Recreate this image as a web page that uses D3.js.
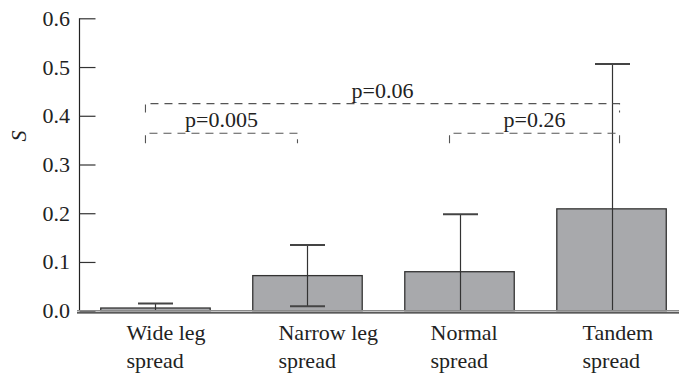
<!DOCTYPE html>
<html>
<head>
<meta charset="utf-8">
<script src="https://cdn.jsdelivr.net/npm/d3@7"></script>
</head>
<body style="margin:0">
<svg id="s" width="679" height="379"></svg>
<script>
// ---- data ----
const categories = ["Wide leg spread", "Narrow leg spread", "Normal spread", "Tandem spread"];
const labelLine1 = ["Wide leg", "Narrow leg", "Normal", "Tandem"];
const labelLine2 = ["spread", "spread", "spread", "spread"];
const means = [0.0055, 0.072, 0.080, 0.209];
const sds = [0.0092, 0.063, 0.118, 0.297];
const yTicks = [0.0, 0.1, 0.2, 0.3, 0.4, 0.5, 0.6];
const yTickLabels = ["0.0", "0.1", "0.2", "0.3", "0.4", "0.5", "0.6"];
const yLabel = "S";
const bracketFrom = [0, 2, 0];
const bracketTo = [1, 3, 3];
const bracketLevel = [0.364, 0.364, 0.425];
const bracketLabels = ["p=0.005", "p=0.26", "p=0.06"];

// ---- drawing ----
const FONT = "Liberation Serif";
const FS = 22;
const TXT = "#222";
const svg = d3.select("#s");
const x = d3.scaleBand().domain(categories).range([79, 688]).paddingInner(0.28).paddingOuter(0.143);
const y = d3.scaleLinear().domain([0, 0.6]).range([310.7, 18.3]);
const cx = i => x(categories[i]) + x.bandwidth() / 2;

// y axis (ticks only; labels drawn separately)
const yAxis = d3.axisRight(y).tickValues(yTicks).tickSize(16).tickFormat(() => "");
const gy = svg.append("g").attr("transform", "translate(79.5,0)").call(yAxis);
gy.select(".domain").attr("stroke", "#222").attr("stroke-width", 1.2).attr("d", `M0,${y(0.6)}V${y(0)}`);
gy.selectAll(".tick line").attr("stroke", "#333").attr("stroke-width", 1.2);
gy.selectAll(".tick text").remove();

svg.selectAll("text.ytl").data(yTicks).join("text").attr("class", "ytl")
  .attr("x", 70).attr("y", d => y(d)).attr("dy", "0.34em")
  .attr("text-anchor", "end").attr("font-size", FS).attr("font-family", FONT).attr("fill", TXT)
  .text((d, i) => yTickLabels[i]);

svg.selectAll("text.ylab").data([yLabel]).join("text").attr("class", "ylab")
  .attr("transform", "translate(26,136) rotate(-90)")
  .attr("text-anchor", "middle").attr("font-style", "italic")
  .attr("font-size", FS).attr("font-family", FONT).attr("fill", TXT)
  .text(d => d);

// bars
svg.selectAll("rect.bar").data(means).join("rect").attr("class", "bar")
  .attr("x", (d, i) => x(categories[i]))
  .attr("y", d => y(d))
  .attr("width", x.bandwidth())
  .attr("height", d => y(0) - y(d))
  .attr("fill", "#a8a9ac").attr("stroke", "#333").attr("stroke-width", 1.3);

// error bars
const capW = 35;
means.forEach((m, i) => {
  const hi = m + sds[i], lo = m - sds[i];
  const xc = Math.round(cx(i)) + 0.5;
  svg.append("line").attr("x1", xc).attr("x2", xc).attr("y1", y(hi)).attr("y2", y(Math.max(lo, 0)))
    .attr("stroke", "#333").attr("stroke-width", 1.2);
  svg.append("line").attr("x1", xc - capW / 2).attr("x2", xc + capW / 2).attr("y1", y(hi)).attr("y2", y(hi))
    .attr("stroke", "#444").attr("stroke-width", 2);
  if (lo > 0) {
    svg.append("line").attr("x1", xc - capW / 2).attr("x2", xc + capW / 2).attr("y1", y(lo)).attr("y2", y(lo))
      .attr("stroke", "#444").attr("stroke-width", 2);
  }
});

// baseline (double line)
svg.append("line").attr("x1", 77).attr("x2", 679).attr("y1", y(0)).attr("y2", y(0))
  .attr("stroke", "#8a8a8a").attr("stroke-width", 1.5);
svg.append("line").attr("x1", 77).attr("x2", 679).attr("y1", y(0) + 2.2).attr("y2", y(0) + 2.2)
  .attr("stroke", "#222").attr("stroke-width", 1.3);

// category labels (two lines)
svg.selectAll("text.cl1").data(labelLine1).join("text").attr("class", "cl1")
  .attr("x", (d, i) => cx(i) - 29).attr("y", 340)
  .attr("font-size", FS).attr("font-family", FONT).attr("fill", TXT).text(d => d);
svg.selectAll("text.cl2").data(labelLine2).join("text").attr("class", "cl2")
  .attr("x", (d, i) => cx(i) - 29).attr("y", 368)
  .attr("font-size", FS).attr("font-family", FONT).attr("fill", TXT).text(d => d);

// significance brackets
const endX = i => (i === categories.length - 1 ? cx(i) + 8 : cx(i) - 10);
bracketLabels.forEach((lbl, k) => {
  const yl = y(bracketLevel[k]);
  const tick = bracketLevel[k] > 0.4 ? 9 : 10;
  const xa = endX(bracketFrom[k]), xb = endX(bracketTo[k]);
  svg.append("path")
    .attr("d", `M${xa},${yl + tick}V${yl}H${xb}V${yl + tick}`)
    .attr("fill", "none").attr("stroke", "#555").attr("stroke-width", 1.1)
    .attr("stroke-dasharray", "8,6");
});
svg.selectAll("text.pl").data(bracketLabels).join("text").attr("class", "pl")
  .attr("x", (d, k) => (endX(bracketFrom[k]) + endX(bracketTo[k])) / 2)
  .attr("y", (d, k) => y(bracketLevel[k]) - 6)
  .attr("text-anchor", "middle")
  .attr("font-size", FS).attr("font-family", FONT).attr("fill", TXT).text(d => d);
</script>
</body>
</html>
